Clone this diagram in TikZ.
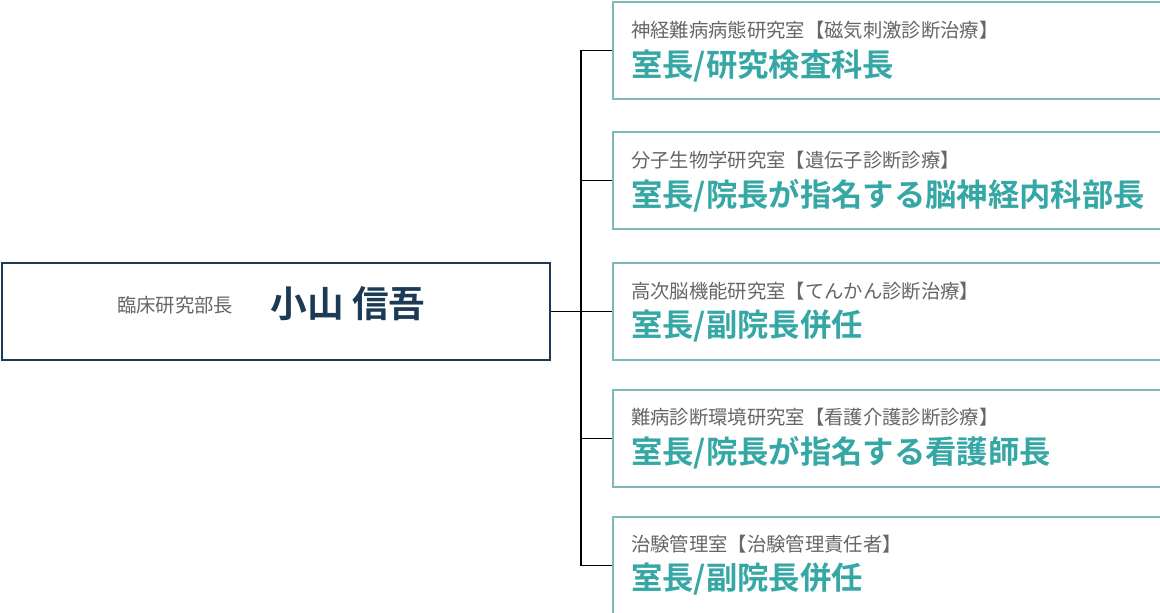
\documentclass[tikz,border=0pt]{standalone}
\usepackage{fontspec}
\usepackage{tikz}
\usetikzlibrary{positioning}
\newfontfamily\cjk{Noto Sans CJK JP}
\newfontfamily\cjkb{Noto Sans CJK JP Bold}
\definecolor{navy}{HTML}{1C3A56}
\definecolor{teal}{HTML}{35A7A5}
\definecolor{tealline}{HTML}{7DB9B7}
\definecolor{labgray}{HTML}{666666}
\tikzset{
  labbox/.style={draw=tealline, line width=1.5pt, minimum width=411pt, minimum height=73pt, anchor=north west, inner sep=0pt},
  headbox/.style={draw=navy, line width=1.5pt, minimum width=411pt, minimum height=73pt, anchor=north west, inner sep=0pt},
  roomtxt/.style={anchor=west, inner sep=0pt, text=labgray, font=\cjk\fontsize{14.5}{16}\selectfont},
  chieftxt/.style={anchor=west, inner sep=0pt, text=teal, font=\cjkb\fontsize{23.5}{26}\selectfont},
  link/.style={line width=1.2pt, black}
}
\begin{document}
\begin{tikzpicture}[x=0.75pt, y=-0.75pt]
\useasboundingbox (0,0) rectangle (1160,612);
% head
\node[headbox] (head) at (1,262) {};
\node[anchor=center, text=labgray, font=\cjk\fontsize{14.5}{16}\selectfont] (headrole) at (175,305) {臨床研究部長};
\node[anchor=center, text=navy, font=\cjkb\fontsize{27.5}{30}\selectfont] (headname) at (348,304) {小山 信吾};
% labs
\node[labbox] (lab1) at (612,1) {};
\node[labbox] (lab2) at (612,131) {};
\node[labbox] (lab3) at (612,262) {};
\node[labbox] (lab4) at (612,389) {};
\node[labbox] (lab5) at (612,516) {};
\node[roomtxt] (room1) at (631,30) {神経難病病態研究室【磁気刺激診断治療】};
\node[roomtxt] (room2) at (631,160) {分子生物学研究室【遺伝子診断診療】};
\node[roomtxt] (room3) at (631,291) {高次脳機能研究室【てんかん診断治療】};
\node[roomtxt] (room4) at (631,417) {難病診断環境研究室【看護介護診断診療】};
\node[roomtxt] (room5) at (631,544) {治験管理室【治験管理責任者】};
\node[chieftxt] (chief1) at (631,66) {室長/研究検査科長};
\node[chieftxt] (chief2) at (631,196) {室長/院長が指名する脳神経内科部長};
\node[chieftxt] (chief3) at (631,326) {室長/副院長併任};
\node[chieftxt] (chief4) at (631,453) {室長/院長が指名する看護師長};
\node[chieftxt] (chief5) at (631,579) {室長/副院長併任};
% connectors
\coordinate (trunk) at (head.east -| 581,0);
\draw[link] (head.east) -- (trunk);
\foreach \i in {1,...,5}{
  \draw[link] (trunk) |- (lab\i.west);
}
\end{tikzpicture}
\end{document}
